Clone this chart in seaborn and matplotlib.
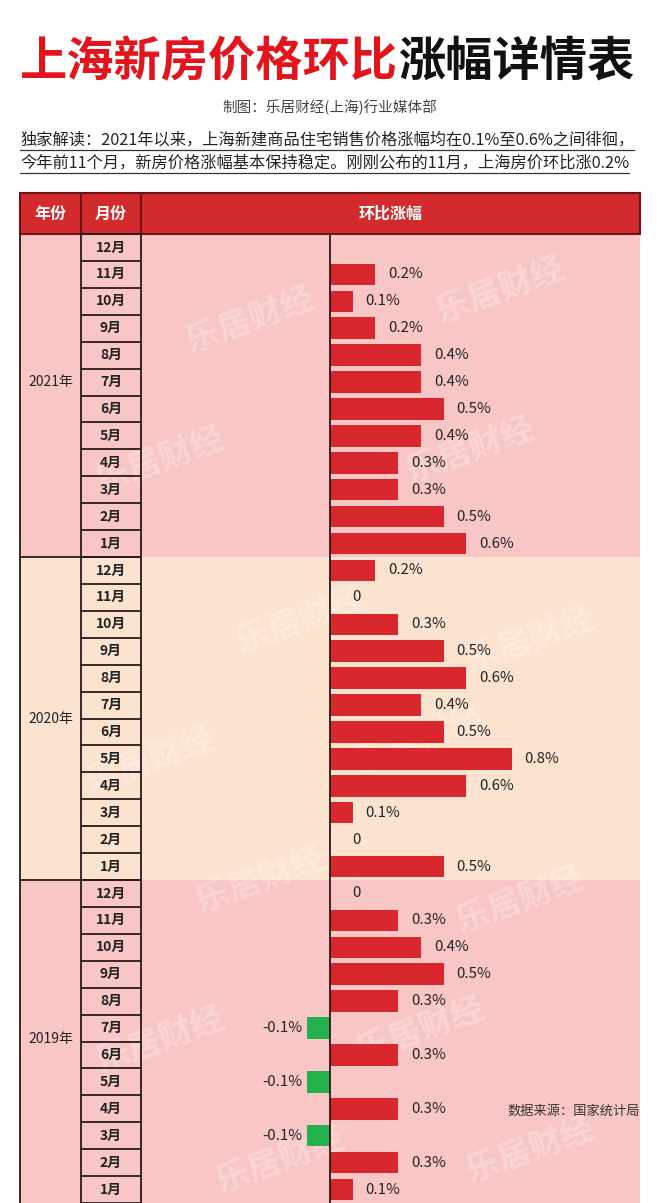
import numpy as np
import pandas as pd
import matplotlib
matplotlib.use('Agg')
import matplotlib.pyplot as plt
import seaborn as sns
from matplotlib.patches import Rectangle

# -------------------------
# Data
# -------------------------
YEARS = ["2021年", "2020年", "2019年"]
MONTHS = ["12月", "11月", "10月", "9月", "8月", "7月",
          "6月", "5月", "4月", "3月", "2月", "1月"]
CHANGE_2021 = [np.nan, 0.2, 0.1, 0.2, 0.4, 0.4, 0.5, 0.4, 0.3, 0.3, 0.5, 0.6]
CHANGE_2020 = [0.2, 0.0, 0.3, 0.5, 0.6, 0.4, 0.5, 0.8, 0.6, 0.1, 0.0, 0.5]
CHANGE_2019 = [0.0, 0.3, 0.4, 0.5, 0.3, -0.1, 0.3, -0.1, 0.3, -0.1, 0.3, 0.1]

TITLE_RED = "上海新房价格环比"
TITLE_BLACK = "涨幅详情表"
SUBTITLE = "制图：乐居财经(上海)行业媒体部"
INTRO = [
    "独家解读：2021年以来，上海新建商品住宅销售价格涨幅均在0.1%至0.6%之间徘徊，",
    "今年前11个月，新房价格涨幅基本保持稳定。刚刚公布的11月，上海房价环比涨0.2%",
]
HEADERS = ["年份", "月份", "环比涨幅"]
SOURCE = "数据来源：国家统计局"
WATERMARK = "乐居财经"

# -------------------------
# Layout (pixels)
# -------------------------
W, H = 660, 1203
TABLE_L, YEAR_R, MONTH_R, TABLE_R = 20, 81, 141, 640
HEAD_T, HEAD_B = 193, 234
ZERO_X = 330
PX_PER_PCT = 227
ROW_H = (H - HEAD_B) / 36

PINK = "#f9c6c6"
BEIGE = "#fce3d0"
BAND_COLORS = [PINK, BEIGE, PINK]
RED = "#d8282d"
GREEN = "#22b14c"
LINE = "#2a1a1a"

# build table
rows = []
for year, vals in zip(YEARS, [CHANGE_2021, CHANGE_2020, CHANGE_2019]):
    for m, v in zip(MONTHS, vals):
        rows.append({"key": year + m, "year": year, "month": m, "value": v,
                     "sign": "down" if (not np.isnan(v) and v < 0) else "up"})
df = pd.DataFrame(rows)
keys = df["key"].tolist()

sns.set_theme(style="white")
plt.rcParams['font.family'] = ['Noto Sans CJK SC', 'DejaVu Sans']

fig = plt.figure(figsize=(W / 100, H / 100), dpi=100)
fig.patch.set_facecolor("white")

# background axes in pixel coordinates
bg = fig.add_axes([0, 0, 1, 1])
bg.set_xlim(0, W)
bg.set_ylim(H, 0)
bg.axis("off")

# bands
for k, col in enumerate(BAND_COLORS):
    y0 = HEAD_B + k * 12 * ROW_H
    bg.add_patch(Rectangle((TABLE_L, y0), TABLE_R - TABLE_L, 12 * ROW_H,
                           fc=col, ec="none", zorder=0))

# faint watermarks
wm_pos = [(250, 320), (500, 290), (160, 460), (470, 450), (300, 620),
          (530, 640), (150, 760), (420, 740), (260, 880), (520, 900),
          (160, 1040), (420, 1030), (280, 1160), (530, 1150)]
for x, y in wm_pos:
    bg.text(x, y, WATERMARK, fontsize=24, fontweight="bold", color="white",
            alpha=0.25, rotation=20, ha="center", va="center", zorder=1)

# header
bg.add_patch(Rectangle((TABLE_L, HEAD_T), TABLE_R - TABLE_L, HEAD_B - HEAD_T,
                       fc="#d32a2d", ec="#6e1414", lw=1.5, zorder=2))
for x in [YEAR_R, MONTH_R]:
    bg.plot([x, x], [HEAD_T, HEAD_B], color="#6e1414", lw=1.5, zorder=3)
for txt, cx in zip(HEADERS, [(TABLE_L + YEAR_R) / 2, (YEAR_R + MONTH_R) / 2,
                             (MONTH_R + TABLE_R) / 2]):
    bg.text(cx, (HEAD_T + HEAD_B) / 2, txt, color="white", fontsize=11.5,
            fontweight="bold", ha="center", va="center", zorder=4)

# table lines
for x in [TABLE_L, YEAR_R, MONTH_R]:
    bg.plot([x, x], [HEAD_B, H], color=LINE, lw=1.3, zorder=3)
for r in range(37):
    y = HEAD_B + r * ROW_H
    bg.plot([YEAR_R, MONTH_R], [y, y], color=LINE, lw=1.3, zorder=3)
for k in range(1, 3):
    y = HEAD_B + k * 12 * ROW_H
    bg.plot([TABLE_L, MONTH_R], [y, y], color=LINE, lw=1.3, zorder=3)

# month and year labels
for i, m in enumerate(df["month"]):
    bg.text((YEAR_R + MONTH_R) / 2, HEAD_B + (i + 0.5) * ROW_H, m,
            fontsize=10, fontweight="bold", color="#222222",
            ha="center", va="center", zorder=4)
year_rows = [5, 17.5, 29.4]
for yr, r in zip(YEARS, year_rows):
    bg.text((TABLE_L + YEAR_R) / 2, HEAD_B + (r + 0.5) * ROW_H, yr,
            fontsize=10, color="#222222", ha="center", va="center", zorder=4)

# titles
renderer = fig.canvas.get_renderer()
t_red = bg.text(TABLE_L, 62, TITLE_RED, fontsize=34, fontweight="heavy",
                color="#e3141c", ha="left", va="center")
bb = t_red.get_window_extent(renderer)
bg.text(bb.x1, 62, TITLE_BLACK, fontsize=34, fontweight="heavy",
        color="#111111", ha="left", va="center")
bg.text(W / 2, 107, SUBTITLE, fontsize=10.5, color="#444444",
        ha="center", va="center")
for line, y in zip(INTRO, [140, 163]):
    t = bg.text(TABLE_L, y, line, fontsize=11.7, color="#222222",
                ha="left", va="center")
    bb = t.get_window_extent(renderer)
    uy = H - bb.y0 + 1
    bg.plot([bb.x0, bb.x1], [uy, uy], color="#333333", lw=0.9)

bg.text(TABLE_R, 1111, SOURCE, fontsize=9.5, color="#333333",
        ha="right", va="center", zorder=4)

# bar axes
ax = fig.add_axes([MONTH_R / W, 0, (TABLE_R - MONTH_R) / W, (H - HEAD_B) / H])
ax.patch.set_alpha(0)
sns.barplot(data=df, x="value", y="key", hue="sign", order=keys,
            palette={"up": RED, "down": GREEN}, orient="h", dodge=False,
            width=0.8, saturation=1, errorbar=None, legend=False,
            linewidth=0, edgecolor="none", ax=ax)
ax.set_xlim((MONTH_R - ZERO_X) / PX_PER_PCT, (TABLE_R - ZERO_X) / PX_PER_PCT)
ax.set_ylim(len(keys) - 0.5, -0.5)
ax.axis("off")
ax.axvline(0, color=LINE, lw=1.3)

for i, v in enumerate(df["value"]):
    if np.isnan(v):
        continue
    if v == 0:
        label, off, ha = "0", 22, "left"
    elif v > 0:
        label, off, ha = f"{v:.1f}%", 13, "left"
    else:
        label, off, ha = f"{v:.1f}%", -5, "right"
    ax.annotate(label, (v, i), xytext=(off, 0), textcoords="offset pixels",
                ha=ha, va="center", fontsize=10.8, color="#222222")

fig.savefig("out.png", dpi=100)
